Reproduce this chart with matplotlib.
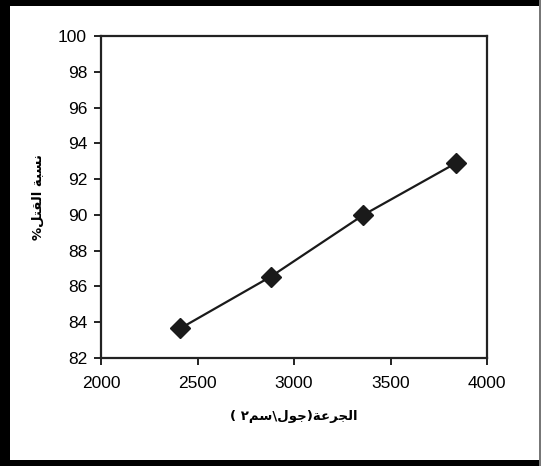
import matplotlib
matplotlib.use('Agg')
import matplotlib.pyplot as plt
from matplotlib.patches import Rectangle

# dose (J/cm2) and kill percentage
dose = [2410, 2880, 3360, 3840]
kill = [83.65, 86.55, 90.0, 92.9]

x_ticks = [2000, 2500, 3000, 3500, 4000]
y_ticks = [82, 84, 86, 88, 90, 92, 94, 96, 98, 100]

# Arabic labels written in visual order with presentation forms
# "الجرعة(جول\سم٢ )"
x_label = ("(" + " " + "\u0662" + "\uFEE2\uFEB3" + "\\" + "\uFEDD\uFEEE\uFE9F"
           + ")" + "\uFE94\uFECB\uFEAE\uFEA0\uFEDF\uFE8D")
# "نسبة القتل%"
y_label = ("%" + "\uFEDE\uFE98\uFED8\uFEDF\uFE8D" + " " + "\uFE94\uFE92\uFEB4\uFEE7")

plt.rcParams['font.family'] = ['Liberation Sans', 'DejaVu Sans']

fig = plt.figure(figsize=(5.41, 4.66), dpi=100)
ax = fig.add_axes([0.1867, 0.2318, 0.9002 - 0.1867, 0.9227 - 0.2318])

ax.plot(dose, kill, color='#1a1a1a', lw=1.6, marker='D', ms=10,
        markerfacecolor='#1a1a1a', markeredgecolor='#1a1a1a')

ax.set_xlim(2000, 4000)
ax.set_ylim(82, 100)
ax.set_xticks(x_ticks)
ax.set_yticks(y_ticks)
ax.tick_params(direction='out', length=5, width=1.4, color='#222222',
               labelsize=12.5)
ax.tick_params(axis='x', pad=8)
ax.tick_params(axis='y', pad=5)
for s in ax.spines.values():
    s.set_linewidth(1.6)
    s.set_color('#222222')

ax.set_xlabel(x_label, family=['DejaVu Sans'], fontweight='bold',
              fontsize=9.5, labelpad=14)
ax.set_ylabel(y_label, family=['DejaVu Sans'], fontweight='bold',
              fontsize=9.5, labelpad=10)

# outer frame
W, H = 541.0, 466.0
fig.add_artist(Rectangle((0, 0), 10 / W, 1, transform=fig.transFigure,
                         color='black', lw=0))
fig.add_artist(Rectangle((0, 1 - 6 / H), 1, 6 / H, transform=fig.transFigure,
                         color='black', lw=0))
fig.add_artist(Rectangle((0, 0), 1, 6 / H, transform=fig.transFigure,
                         color='black', lw=0))
fig.add_artist(Rectangle((1 - 2 / W, 0), 2 / W, 1, transform=fig.transFigure,
                         color='#777777', lw=0))

fig.savefig('out.png', dpi=100)
